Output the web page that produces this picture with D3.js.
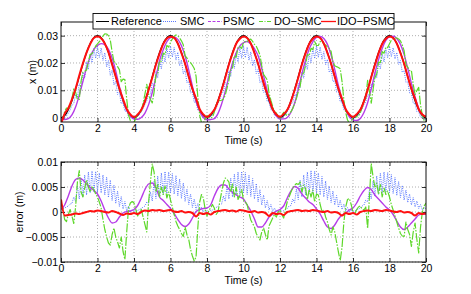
<!DOCTYPE html>
<html>
<head>
<meta charset="utf-8">
<script src="https://cdn.jsdelivr.net/npm/d3@7"></script>
<style>
  body { margin: 0; background: #fff; }
  svg text { font-family: "Liberation Sans", Arial, sans-serif; font-size: 10.5px; fill: #000; }
</style>
</head>
<body>
<div id="chart"></div>
<script>
var svgWidth = 471;
var svgHeight = 294;

// sample step of the stored series (s)
var fineStep = 0.1;
var coarseStep = 0.2;

// reference trajectory (mm), every 0.1 s
var referenceMm = [
  0,0.18,0.73,1.63,2.86,4.39,6.18,8.19,10.36,12.65,15,17.35,19.64,21.81,23.82,25.61,27.14,28.37,29.27,29.82,
  30,29.82,29.27,28.37,27.14,25.61,23.82,21.81,19.64,17.35,15,12.65,10.36,8.19,6.18,4.39,2.86,1.63,0.73,0.18,
  0,0.18,0.73,1.63,2.86,4.39,6.18,8.19,10.36,12.65,15,17.35,19.64,21.81,23.82,25.61,27.14,28.37,29.27,29.82,
  30,29.82,29.27,28.37,27.14,25.61,23.82,21.81,19.64,17.35,15,12.65,10.36,8.19,6.18,4.39,2.86,1.63,0.73,0.18,
  0,0.18,0.73,1.63,2.86,4.39,6.18,8.19,10.36,12.65,15,17.35,19.64,21.81,23.82,25.61,27.14,28.37,29.27,29.82,
  30,29.82,29.27,28.37,27.14,25.61,23.82,21.81,19.64,17.35,15,12.65,10.36,8.19,6.18,4.39,2.86,1.63,0.73,0.18,
  0,0.18,0.73,1.63,2.86,4.39,6.18,8.19,10.36,12.65,15,17.35,19.64,21.81,23.82,25.61,27.14,28.37,29.27,29.82,
  30,29.82,29.27,28.37,27.14,25.61,23.82,21.81,19.64,17.35,15,12.65,10.36,8.19,6.18,4.39,2.86,1.63,0.73,0.18,
  0,0.18,0.73,1.63,2.86,4.39,6.18,8.19,10.36,12.65,15,17.35,19.64,21.81,23.82,25.61,27.14,28.37,29.27,29.82,
  30,29.82,29.27,28.37,27.14,25.61,23.82,21.81,19.64,17.35,15,12.65,10.36,8.19,6.18,4.39,2.86,1.63,0.73,0.18,
  0
];

// tracking errors (mm), SMC and DO-SMC every 0.1 s
var smcErrMm = [
  0.6,0.7,0.8,1.0,1.2,1.6,1.7,3.0,2.1,5.2,2.6,6.6,3.0,7.4,3.4,8.0,3.8,8.2,4.0,8.1,
  4.0,7.8,3.8,7.4,3.4,7.0,2.9,6.4,2.3,5.4,1.7,4.2,1.1,3.1,0.6,2.1,0.2,1.2,0.0,0.5,
  0.0,0.2,0.3,0.5,0.7,1.0,1.2,2.0,1.7,4.0,2.2,6.2,2.7,7.2,3.1,7.8,3.5,8.1,3.7,8.0,
  3.8,7.7,3.6,7.3,3.2,6.6,2.7,5.8,2.1,4.6,1.5,3.6,0.9,2.6,0.5,1.7,0.2,1.0,0.0,0.4,
  0.0,0.1,0.3,0.4,0.6,0.9,1.1,1.6,1.6,3.2,2.1,5.4,2.6,6.8,3.0,7.6,3.4,8.0,3.6,8.1,
  3.7,7.9,3.5,7.4,3.1,6.7,2.6,5.7,2.0,4.5,1.4,3.4,0.8,2.3,0.4,1.5,0.1,0.8,0.0,0.3,
  0.0,0.2,0.3,0.5,0.7,1.2,1.3,2.6,1.9,4.6,2.5,6.4,3.0,7.4,3.4,8.0,3.7,8.3,3.8,8.2,
  3.7,7.8,3.4,7.1,3.0,6.2,2.5,5.2,1.9,4.2,1.4,3.3,0.9,2.4,0.5,1.6,0.2,0.9,0.0,0.4,
  0.0,0.2,0.4,0.6,0.8,1.2,1.4,2.4,2.0,4.4,2.6,6.2,3.1,7.2,3.5,7.8,3.8,8.0,4.0,7.9,
  3.9,7.5,3.7,6.9,3.3,6.1,2.9,5.3,2.4,4.4,1.9,3.6,1.4,2.9,1.0,2.2,0.7,1.5,0.4,1.0,
  0.5
];

var doSmcErrMm = [
  2.0,0.5,-1.5,-1.9,-0.5,0.5,-0.8,-2.3,1.0,6.0,
  8.3,4.0,3.0,4.8,6.4,5.0,4.0,5.0,4.5,3.6,
  3.0,2.0,0.8,-1.5,-3.5,-5.0,-6.2,-6.6,-4.5,-3.2,
  -5.0,-6.0,-7.2,-5.0,-7.9,-9.5,-4.0,0.8,1.8,2.1,
  1.8,0.5,-0.8,0.0,0.5,-1.0,-2.5,-4.0,2.0,6.0,
  9.6,8.0,4.0,5.5,3.0,5.0,3.5,5.2,2.8,4.0,
  2.4,1.0,-0.5,-1.9,-2.8,-3.5,-4.3,-4.9,-3.0,-4.5,
  -5.5,-7.5,-8.8,-9.8,-9.0,-3.0,2.0,3.5,2.8,0.5,
  -0.8,0.3,0.8,1.5,0.8,-0.5,0.0,2.0,4.0,5.8,
  6.8,6.5,6.0,4.0,5.6,3.0,5.0,2.5,3.3,4.5,
  2.4,2.0,1.5,-0.2,-1.6,-2.3,-3.0,-4.3,-5.0,-5.6,
  -4.0,-3.2,-4.5,-5.6,-2.8,-2.0,-1.2,-0.5,-1.0,0.0,
  0.4,-0.5,-1.2,0.5,2.1,3.0,4.0,4.8,5.3,5.7,
  5.5,6.0,4.0,5.4,4.7,2.5,4.5,3.0,4.4,2.0,
  3.6,3.4,1.5,0.1,0.4,-1.0,-2.0,-3.5,-4.6,-3.0,
  -4.0,-6.0,-8.0,-9.7,-7.0,-2.0,1.0,2.5,2.7,1.5,
  0.0,-0.4,0.5,1.0,1.2,0.6,0.4,1.0,-3.3,3.0,
  9.7,7.0,5.0,5.8,3.5,5.5,3.0,4.8,3.5,4.2,
  3.0,1.5,0.4,-0.8,-2.0,-3.2,-4.3,-4.8,-4.9,-2.0,
  -3.5,-4.5,-6.9,-4.0,-2.2,-5.5,-8.2,-3.0,0.0,1.2,
  1.8
];

// PSMC and IDO-PSMC every 0.2 s
var psmcErrMm = [
  0.5,1.4,3.2,5.2,6.5,6.8,6.4,5.6,4.9,4.3,3.6,2.2,0.4,-1.2,-2.2,-2.0,-1.0,-0.2,0.1,0.2,
  0.5,1.3,2.8,4.5,5.6,5.8,4.8,3.0,2.3,1.5,0.7,-0.3,-1.5,-2.5,-2.9,-2.4,-1.2,0.1,0.5,0.7,
  0.8,1.4,3.2,4.7,5.4,5.4,4.6,3.9,3.4,3.0,2.6,1.4,0.2,-1.4,-3.0,-3.0,-2.2,-1.0,-0.4,0.2,
  0.5,1.2,2.8,4.2,5.1,4.7,3.6,2.8,2.0,1.5,0.6,-0.4,-1.8,-3.0,-3.3,-2.6,-1.4,-0.6,-0.2,0.4,
  0.8,1.8,3.2,4.3,4.9,4.5,3.4,2.6,1.8,1.0,0.4,-0.5,-1.8,-3.0,-3.5,-3.0,-2.2,-1.4,-0.6,-0.4,
  -0.4
];

var idoPsmcErrMm = [
  2.5,-0.7,-0.6,-0.5,-0.3,-0.4,-0.2,0.0,0.2,0.1,0.3,0.2,0.0,-0.1,0.2,0.0,-0.3,-0.6,-0.3,-0.4,
  -0.2,-0.4,0.0,0.3,0.2,0.4,0.3,0.4,0.2,0.3,0.4,0.1,0.0,0.2,-0.1,0.0,-0.2,-0.9,-0.2,-0.4,
  -0.2,-0.5,0.0,0.2,0.3,0.4,0.2,0.3,0.1,0.4,0.3,0.1,0.0,0.2,-0.1,0.0,-0.2,-0.8,-0.2,-0.4,
  -0.3,-0.6,0.0,0.2,0.3,0.4,0.2,0.3,0.2,0.4,0.3,0.1,0.0,0.2,-0.1,0.0,-0.2,-0.7,-0.2,-0.4,
  -0.2,-0.5,0.0,0.2,0.3,0.2,0.4,0.3,0.2,0.4,0.3,0.1,0.0,0.2,-0.1,0.0,-0.2,-0.7,-0.2,-0.4,
  -0.3
];

var seriesNames = ["Reference", "SMC", "PSMC", "DO\u2212SMC", "IDO\u2212PSMC"];
var timeTicks = [0, 2, 4, 6, 8, 10, 12, 14, 16, 18, 20];
var posTicks = [0, 0.01, 0.02, 0.03];
var errTicks = [-0.01, -0.005, 0, 0.005, 0.01];
var posTickLabels = ["0", "0.01", "0.02", "0.03"];
var errTickLabels = ["\u22120.01", "\u22120.005", "0", "0.005", "0.01"];

var styles = {
  "Reference": { color: "#000000", width: 1.2, dash: null },
  "SMC": { color: "#5a78ff", width: 1, dash: "1,1.2" },
  "PSMC": { color: "#b63ce8", width: 1.4, dash: null },
  "DO\u2212SMC": { color: "#5ed82a", width: 1.2, dash: "9,1.5,1.5,1.5" },
  "IDO\u2212PSMC": { color: "#ff1010", width: 2, dash: null }
};
var legendDash = { "SMC": "1,1", "PSMC": "3,1.5", "DO\u2212SMC": "4,1.5,1,1.5" };

// build point lists (times and metres)
function toPoints(values, step) {
  return values.map(function(v, i) { return { t: i * step, v: v / 1000 }; });
}
// position = reference - error
function positionFrom(errors, step) {
  var ratio = Math.round(step / fineStep);
  return errors.map(function(e, i) { return { t: i * step, v: (referenceMm[i * ratio] - e) / 1000 }; });
}

var errSeries = [
  { name: "SMC", pts: toPoints(smcErrMm, fineStep) },
  { name: "PSMC", pts: toPoints(psmcErrMm, coarseStep) },
  { name: "DO\u2212SMC", pts: toPoints(doSmcErrMm, fineStep) },
  { name: "IDO\u2212PSMC", pts: toPoints(idoPsmcErrMm, coarseStep) }
];
var posSeries = [
  { name: "Reference", pts: toPoints(referenceMm, fineStep) },
  { name: "SMC", pts: positionFrom(smcErrMm, fineStep) },
  { name: "PSMC", pts: positionFrom(psmcErrMm, coarseStep) },
  { name: "DO\u2212SMC", pts: positionFrom(doSmcErrMm, fineStep) },
  { name: "IDO\u2212PSMC", pts: positionFrom(idoPsmcErrMm, coarseStep) }
];

var svg = d3.select("#chart")
  .append("svg")
  .attr("width", svgWidth)
  .attr("height", svgHeight);

var xScale = d3.scaleLinear().domain([0, 20]).range([61, 426]);
var yPos = d3.scaleLinear().domain([-0.0016, 0.035]).range([122, 22]);
var yErr = d3.scaleLinear().domain([-0.01, 0.01]).range([262, 162]);

function drawPanel(id, yScale, ticks, tickLabels, series, ylabel, ylabelX) {
  var top = yScale.range()[1], bottom = yScale.range()[0];
  var left = xScale.range()[0], right = xScale.range()[1];
  var g = svg.append("g").attr("class", id);

  g.append("clipPath").attr("id", "clip-" + id)
    .append("rect")
    .attr("x", left).attr("y", top)
    .attr("width", right - left).attr("height", bottom - top);

  // grid
  g.selectAll(".vgrid").data(timeTicks.slice(1, -1)).enter()
    .append("line")
    .attr("x1", d => xScale(d)).attr("x2", d => xScale(d))
    .attr("y1", top).attr("y2", bottom)
    .attr("stroke", "#9a9a9a").attr("stroke-width", 0.8).attr("stroke-dasharray", "1,2");
  g.selectAll(".hgrid").data(ticks).enter()
    .append("line")
    .attr("x1", left).attr("x2", right)
    .attr("y1", d => yScale(d)).attr("y2", d => yScale(d))
    .attr("stroke", "#9a9a9a").attr("stroke-width", 0.8).attr("stroke-dasharray", "1,2");

  // axes (ticks inward, labels outside)
  var xAxis = d3.axisBottom(xScale).tickValues(timeTicks).tickSize(-4).tickPadding(3);
  var yAxis = d3.axisLeft(yScale).tickValues(ticks).tickSize(-4).tickPadding(3)
    .tickFormat((d, i) => tickLabels[i]);
  g.append("g").attr("transform", `translate(0, ${bottom})`).call(xAxis);
  g.append("g").attr("transform", `translate(${left}, 0)`).call(yAxis);
  g.append("g").attr("transform", `translate(0, ${top})`)
    .call(d3.axisTop(xScale).tickValues(timeTicks).tickSize(-4).tickFormat(""));
  g.append("g").attr("transform", `translate(${right}, 0)`)
    .call(d3.axisRight(yScale).tickValues(ticks).tickSize(-4).tickFormat(""));
  g.selectAll(".domain").remove();
  g.selectAll(".tick line").attr("stroke", "#000").attr("stroke-width", 0.8);
  g.selectAll(".tick text").style("font-size", "10.5px").attr("fill", "#000");

  // series
  var lines = g.append("g").attr("clip-path", `url(#clip-${id})`);
  series.forEach(function(s) {
    var st = styles[s.name];
    var smooth = (s.name === "PSMC" || s.name === "Reference" || s.name === "IDO\u2212PSMC");
    var gen = d3.line().x(d => xScale(d.t)).y(d => yScale(d.v))
      .curve(smooth ? d3.curveMonotoneX : d3.curveLinear);
    lines.append("path")
      .datum(s.pts)
      .attr("d", gen)
      .attr("fill", "none")
      .attr("stroke", st.color)
      .attr("stroke-width", st.width)
      .attr("stroke-linejoin", "round")
      .attr("stroke-dasharray", st.dash);
  });

  // box
  g.append("rect")
    .attr("x", left).attr("y", top)
    .attr("width", right - left).attr("height", bottom - top)
    .attr("fill", "none").attr("stroke", "#111").attr("stroke-width", 1);

  g.append("text")
    .attr("x", (left + right) / 2).attr("y", bottom + 22)
    .attr("text-anchor", "middle")
    .text("Time (s)");
  g.append("text")
    .attr("transform", `translate(${ylabelX}, ${(top + bottom) / 2})rotate(-90)`)
    .attr("text-anchor", "middle")
    .attr("dy", "0.35em")
    .text(ylabel);
}

drawPanel("pos", yPos, posTicks, posTickLabels, posSeries, "x (m)", 32);
drawPanel("err", yErr, errTicks, errTickLabels, errSeries, "error (m)", 19);

// legend
var legend = svg.append("g").attr("class", "legend");
legend.append("rect")
  .attr("x", 93).attr("y", 13.5).attr("width", 301).attr("height", 15.5)
  .attr("fill", "#fff").attr("stroke", "#000").attr("stroke-width", 0.9);
var legendPos = [
  { x1: 96, x2: 109, tx: 111 },
  { x1: 163, x2: 177, tx: 180 },
  { x1: 208, x2: 222, tx: 223 },
  { x1: 259, x2: 272, tx: 274 },
  { x1: 321, x2: 336, tx: 337 }
];
seriesNames.forEach(function(name, i) {
  var p = legendPos[i];
  var st = styles[name];
  legend.append("line")
    .attr("x1", p.x1).attr("x2", p.x2).attr("y1", 21.5).attr("y2", 21.5)
    .attr("stroke", st.color)
    .attr("stroke-width", name === "IDO\u2212PSMC" ? 1.3 : 1)
    .attr("stroke-dasharray", legendDash[name] || null);
  legend.append("text")
    .attr("x", p.tx).attr("y", 21.5).attr("dy", "0.36em")
    .style("font-size", "11px")
    .text(name);
});
</script>
</body>
</html>
